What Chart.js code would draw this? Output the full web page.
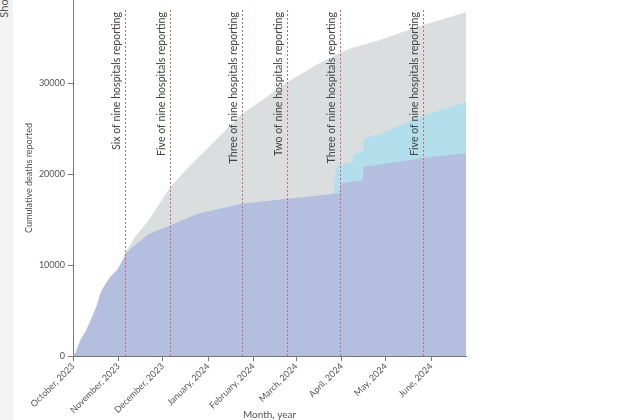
<!DOCTYPE html>
<html>
<head>
<meta charset="utf-8">
<script src="https://cdn.jsdelivr.net/npm/chart.js@4.4.1/dist/chart.umd.min.js"></script>
<style>
  html, body { margin: 0; padding: 0; background: #fff; }
  .wrap { position: relative; width: 640px; height: 420px; overflow: hidden; }
  .side { position: absolute; left: 0; top: 0; width: 13px; height: 420px; background: #f3f3f3; }
  .side span { position: absolute; left: -6px; top: 2px; font: 11px Lato, sans-serif; color: #555;
    transform: rotate(-90deg); transform-origin: center; }
  canvas { position: absolute; left: 0; top: 0; }
</style>
</head>
<body>
<div class="wrap">
  <div class="side"><span>Sho</span></div>
  <canvas id="deathsChart" width="640" height="420"></canvas>
</div>
<script>
// days counted from 1 October 2023
const monthDays = [0, 31, 61, 92, 123, 152, 183, 213, 244];
const monthLabels = ['October, 2023', 'November, 2023', 'December, 2023', 'January, 2024',
    'February, 2024', 'March, 2024', 'April, 2024', 'May, 2024', 'June, 2024'];
const yTickValues = [0, 10000, 20000, 30000];

const eventDays = [35.2, 66.3, 115.5, 145.5, 182, 238.8];
const eventLabels = ['Six of nine hospitals reporting', 'Five of nine hospitals reporting',
    'Three of nine hospitals reporting', 'Two of nine hospitals reporting',
    'Three of nine hospitals reporting', 'Five of nine hospitals reporting'];

// bottom (lavender) series
const reportedDays = [0, 1.6, 5, 8.4, 12.1, 16.3, 18.6, 20.9, 25.4, 30, 34.5, 35.2, 35.6, 51.4, 66.3,
    85.6, 115, 145.8, 158, 177.5, 181.6, 182, 190, 197.5, 197.9, 238.8, 267.8];
const reportedDeaths = [0, 300, 1760, 2680, 3960, 5610, 6900, 7630, 8730, 9470, 10750, 11120, 11300, 13400, 14400,
    15700, 16760, 17300, 17500, 17870, 17900, 18960, 19200, 19340, 20800, 21800, 22340];

// middle (light blue) series
const blueDays = [177.5, 179.5, 181, 190.5, 191, 197.5, 198, 209.5, 238.8, 267.8];
const blueDeaths = [17870, 20800, 21000, 21350, 22270, 22500, 23920, 24470, 26480, 27950];

// top (grey) series
const greyDays = [35.2, 35.6, 42.4, 51.5, 66.3, 81, 96.9, 115.1, 128.7, 145.7, 158.2, 165, 180.9,
    187.7, 208.1, 237.7, 267.8];
const greyDeaths = [11120, 11350, 13130, 14950, 18600, 21150, 23700, 26670, 28130, 30140, 31300, 31980, 33260,
    33800, 34730, 36370, 37830];

function toPoints(days, values) {
    return days.map((d, i) => ({ x: d, y: values[i] }));
}

const eventLines = {
    id: 'eventLines',
    afterDatasetsDraw(chart) {
        const { ctx, chartArea, scales: { x } } = chart;
        ctx.save();
        eventDays.forEach((d, i) => {
            const px = Math.round(x.getPixelForValue(d)) + 0.5;
            ctx.strokeStyle = '#e2606c';
            ctx.lineWidth = 1;
            ctx.setLineDash([2, 2]);
            ctx.beginPath();
            ctx.moveTo(px, 10);
            ctx.lineTo(px, chartArea.bottom);
            ctx.stroke();

            ctx.save();
            ctx.translate(px - 9, 12);
            ctx.rotate(-Math.PI / 2);
            ctx.textAlign = 'right';
            ctx.textBaseline = 'middle';
            ctx.fillStyle = '#444';
            ctx.font = '10.6px Lato, sans-serif';
            ctx.fillText(eventLabels[i], 0, 0);
            ctx.restore();
        });
        ctx.restore();
    }
};

Chart.defaults.font.family = 'Lato, sans-serif';
Chart.defaults.color = '#555';

const areaStyle = { fill: 'origin', pointRadius: 0, borderWidth: 0, borderColor: 'rgba(0,0,0,0)', tension: 0 };

new Chart(document.getElementById('deathsChart').getContext('2d'), {
    type: 'line',
    data: {
        datasets: [
            Object.assign({ label: 'Reported', data: toPoints(reportedDays, reportedDeaths), backgroundColor: '#b4bedf' }, areaStyle),
            Object.assign({ label: 'Added', data: toPoints(blueDays, blueDeaths), backgroundColor: '#b3dfec' }, areaStyle),
            Object.assign({ label: 'Estimated', data: toPoints(greyDays, greyDeaths), backgroundColor: '#dadede' }, areaStyle)
        ]
    },
    options: {
        responsive: false,
        animation: false,
        devicePixelRatio: 1,
        layout: { padding: { left: 20, right: 174, top: 0, bottom: 0 } },
        plugins: { legend: { display: false }, tooltip: { enabled: false } },
        scales: {
            x: {
                type: 'linear',
                min: 0,
                max: 267.8,
                afterBuildTicks: scale => { scale.ticks = monthDays.map(v => ({ value: v })); },
                afterFit: scale => { scale.height = 64; },
                ticks: {
                    autoSkip: false,
                    minRotation: 45,
                    maxRotation: 45,
                    padding: 0,
                    font: { size: 9 },
                    callback: (value) => monthLabels[monthDays.indexOf(value)]
                },
                grid: { display: true, drawOnChartArea: false, drawTicks: true, tickLength: 5, color: '#777' },
                border: { display: true, color: '#777', width: 1 },
                title: { display: true, text: 'Month, year', font: { size: 10 }, padding: { top: 0, bottom: -1 } }
            },
            y: {
                min: 0,
                max: 39190,
                afterBuildTicks: scale => { scale.ticks = yTickValues.map(v => ({ value: v })); },
                afterFit: scale => { scale.width = 53; scale.paddingTop = 0; scale.paddingBottom = 0; },
                ticks: { font: { size: 9 }, padding: 3, callback: (value) => String(value) },
                grid: { display: true, drawOnChartArea: false, drawTicks: true, tickLength: 5, color: '#777' },
                border: { display: true, color: '#777', width: 1 },
                title: { display: true, text: 'Cumulative deaths reported', font: { size: 9 }, padding: { top: 4, bottom: 0 } }
            }
        }
    },
    plugins: [eventLines]
});
</script>
</body>
</html>
